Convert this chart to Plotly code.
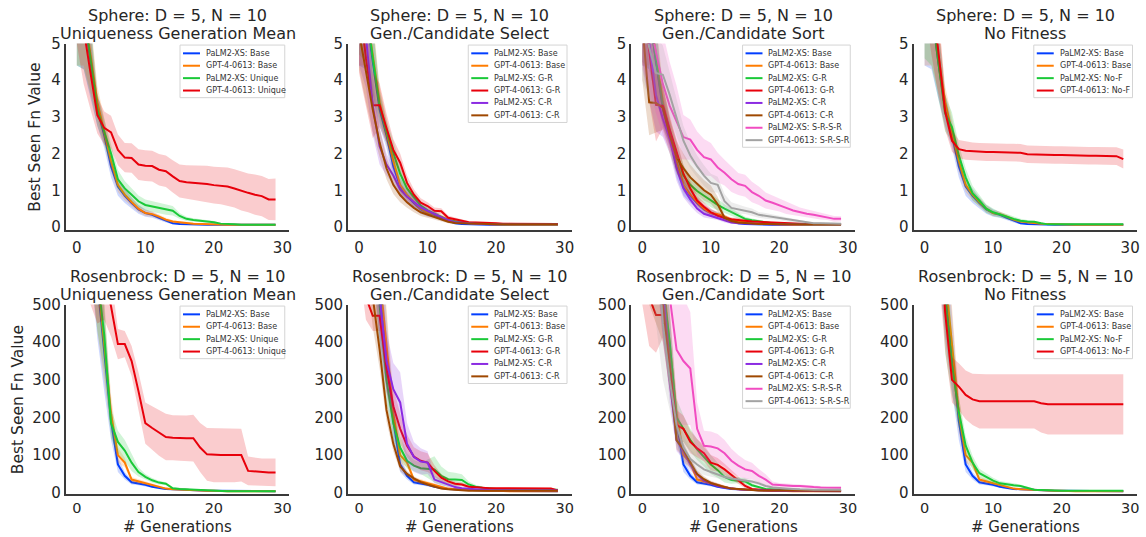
import plotly.graph_objects as go

# ---------------- data ----------------
GENERATIONS = list(range(30))

# Sphere (D=5, N=10)
SPH_PALM_BASE = [7.0, 5.9, 4.5, 3.2, 2.5, 1.65, 1.1, 0.85, 0.65, 0.48, 0.38, 0.33, 0.25, 0.17, 0.1, 0.08, 0.07, 0.07, 0.06, 0.06, 0.06, 0.06, 0.06, 0.06, 0.06, 0.06, 0.06, 0.06, 0.06, 0.06]
SPH_PALM_BASE_SD = [2.6, 1.6, 1.0, 0.45, 0.35, 0.3, 0.25, 0.2, 0.15, 0.12, 0.1, 0.08, 0.06, 0.05, 0.03, 0.02, 0.02, 0.02, 0.01, 0.01, 0.01, 0.01, 0.01, 0.01, 0.01, 0.01, 0.01, 0.01, 0.01, 0.01]
SPH_GPT_BASE = [7.2, 6.0, 4.7, 3.4, 2.6, 1.8, 1.15, 0.88, 0.68, 0.5, 0.38, 0.35, 0.28, 0.2, 0.15, 0.12, 0.11, 0.09, 0.08, 0.07, 0.06, 0.06, 0.06, 0.06, 0.06, 0.06, 0.06, 0.06, 0.06, 0.06]
SPH_GPT_BASE_SD = [2.8, 1.6, 1.0, 0.45, 0.35, 0.3, 0.2, 0.15, 0.12, 0.1, 0.08, 0.07, 0.06, 0.05, 0.04, 0.03, 0.03, 0.02, 0.02, 0.01, 0.01, 0.01, 0.01, 0.01, 0.01, 0.01, 0.01, 0.01, 0.01, 0.01]

SPH_PALM_UNIQUE = [7.0, 5.9, 4.6, 3.2, 2.6, 2.0, 1.3, 1.05, 0.88, 0.7, 0.6, 0.56, 0.52, 0.47, 0.44, 0.3, 0.22, 0.19, 0.17, 0.16, 0.13, 0.09, 0.07, 0.07, 0.06, 0.06, 0.06, 0.06, 0.06, 0.06]
SPH_PALM_UNIQUE_SD = [2.6, 1.6, 1.0, 0.45, 0.35, 0.3, 0.25, 0.2, 0.18, 0.16, 0.15, 0.15, 0.15, 0.14, 0.13, 0.08, 0.06, 0.05, 0.04, 0.04, 0.03, 0.02, 0.02, 0.01, 0.01, 0.01, 0.01, 0.01, 0.01, 0.01]
SPH_GPT_UNIQUE = [7.5, 5.4, 4.2, 3.05, 2.7, 2.58, 2.1, 1.89, 1.88, 1.7, 1.67, 1.66, 1.56, 1.52, 1.38, 1.25, 1.22, 1.21, 1.18, 1.17, 1.14, 1.12, 1.1, 1.05, 0.98, 0.93, 0.88, 0.84, 0.75, 0.75]
SPH_GPT_UNIQUE_SD = [2.5, 1.5, 1.0, 0.5, 0.45, 0.45, 0.42, 0.4, 0.4, 0.42, 0.42, 0.42, 0.43, 0.43, 0.44, 0.45, 0.46, 0.47, 0.48, 0.5, 0.5, 0.5, 0.52, 0.52, 0.53, 0.53, 0.55, 0.55, 0.56, 0.57]

SPH_PALM_GR_SEL = [7.2, 6.0, 4.6, 3.3, 2.6, 2.05, 1.45, 1.05, 0.8, 0.58, 0.45, 0.35, 0.27, 0.18, 0.14, 0.12, 0.1, 0.09, 0.08, 0.07, 0.07, 0.07, 0.07, 0.07, 0.07, 0.07, 0.07, 0.07, 0.07, 0.07]
SPH_PALM_GR_SEL_SD = [2.5, 1.5, 1.0, 0.45, 0.3, 0.3, 0.25, 0.2, 0.15, 0.12, 0.1, 0.08, 0.06, 0.05, 0.04, 0.03, 0.02, 0.02, 0.01, 0.01, 0.01, 0.01, 0.01, 0.01, 0.01, 0.01, 0.01, 0.01, 0.01, 0.01]
SPH_GPT_GR_SEL = [6.2, 4.6, 3.32, 3.32, 2.7, 2.1, 1.75, 1.2, 0.88, 0.66, 0.57, 0.44, 0.43, 0.25, 0.21, 0.16, 0.13, 0.12, 0.12, 0.12, 0.1, 0.09, 0.09, 0.08, 0.08, 0.08, 0.08, 0.08, 0.08, 0.08]
SPH_GPT_GR_SEL_SD = [2.0, 1.3, 0.9, 0.6, 0.4, 0.3, 0.25, 0.2, 0.15, 0.12, 0.1, 0.09, 0.08, 0.06, 0.05, 0.04, 0.03, 0.03, 0.03, 0.02, 0.02, 0.02, 0.02, 0.02, 0.02, 0.02, 0.02, 0.02, 0.02, 0.02]
SPH_PALM_CR_SEL = [6.8, 5.2, 3.3, 2.2, 1.7, 1.4, 1.02, 0.82, 0.68, 0.53, 0.44, 0.36, 0.26, 0.18, 0.13, 0.11, 0.1, 0.09, 0.08, 0.08, 0.07, 0.07, 0.07, 0.07, 0.07, 0.07, 0.07, 0.07, 0.07, 0.07]
SPH_PALM_CR_SEL_SD = [2.4, 1.4, 0.8, 0.5, 0.3, 0.25, 0.2, 0.15, 0.12, 0.1, 0.08, 0.07, 0.05, 0.04, 0.03, 0.02, 0.02, 0.01, 0.01, 0.01, 0.01, 0.01, 0.01, 0.01, 0.01, 0.01, 0.01, 0.01, 0.01, 0.01]
SPH_GPT_CR_SEL = [5.3, 4.2, 3.2, 2.3, 1.6, 1.15, 0.87, 0.67, 0.52, 0.4, 0.34, 0.28, 0.2, 0.14, 0.11, 0.1, 0.09, 0.08, 0.08, 0.07, 0.07, 0.07, 0.07, 0.07, 0.07, 0.07, 0.07, 0.07, 0.07, 0.07]
SPH_GPT_CR_SEL_SD = [1.0, 0.8, 0.6, 0.4, 0.3, 0.25, 0.2, 0.15, 0.12, 0.1, 0.08, 0.06, 0.05, 0.04, 0.03, 0.02, 0.02, 0.01, 0.01, 0.01, 0.01, 0.01, 0.01, 0.01, 0.01, 0.01, 0.01, 0.01, 0.01, 0.01]

SPH_PALM_GR_SORT = [7.0, 5.8, 4.5, 3.3, 2.6, 2.0, 1.4, 1.15, 0.98, 0.85, 0.72, 0.6, 0.5, 0.4, 0.3, 0.22, 0.18, 0.15, 0.12, 0.1, 0.09, 0.08, 0.07, 0.07, 0.07, 0.07, 0.07, 0.07, 0.07, 0.07]
SPH_PALM_GR_SORT_SD = [2.5, 1.5, 1.0, 0.5, 0.35, 0.3, 0.28, 0.25, 0.22, 0.2, 0.18, 0.15, 0.12, 0.1, 0.08, 0.06, 0.05, 0.04, 0.03, 0.02, 0.02, 0.01, 0.01, 0.01, 0.01, 0.01, 0.01, 0.01, 0.01, 0.01]
SPH_GPT_GR_SORT = [6.5, 4.8, 3.33, 3.3, 2.65, 2.05, 1.45, 1.05, 0.72, 0.55, 0.4, 0.3, 0.24, 0.21, 0.2, 0.17, 0.15, 0.14, 0.12, 0.11, 0.1, 0.1, 0.09, 0.08, 0.08, 0.08, 0.08, 0.08, 0.08, 0.08]
SPH_GPT_GR_SORT_SD = [2.0, 1.4, 1.0, 0.6, 0.4, 0.3, 0.25, 0.2, 0.15, 0.12, 0.1, 0.08, 0.06, 0.05, 0.05, 0.04, 0.03, 0.03, 0.02, 0.02, 0.02, 0.02, 0.02, 0.02, 0.02, 0.02, 0.02, 0.02, 0.02, 0.02]
SPH_PALM_CR_SORT = [6.5, 5.0, 3.6, 2.95, 2.4, 1.6, 1.05, 0.75, 0.5, 0.36, 0.3, 0.25, 0.17, 0.12, 0.1, 0.09, 0.08, 0.08, 0.07, 0.07, 0.07, 0.07, 0.07, 0.07, 0.07, 0.07, 0.07, 0.07, 0.07, 0.07]
SPH_PALM_CR_SORT_SD = [2.2, 1.5, 1.0, 0.5, 0.4, 0.35, 0.25, 0.18, 0.12, 0.1, 0.08, 0.06, 0.05, 0.04, 0.03, 0.02, 0.02, 0.01, 0.01, 0.01, 0.01, 0.01, 0.01, 0.01, 0.01, 0.01, 0.01, 0.01, 0.01, 0.01]
SPH_GPT_CR_SORT = [5.5, 3.4, 3.38, 3.25, 2.5, 1.9, 1.6, 1.35, 1.18, 1.0, 0.88, 0.62, 0.25, 0.16, 0.12, 0.1, 0.09, 0.08, 0.08, 0.07, 0.07, 0.07, 0.07, 0.07, 0.07, 0.07, 0.07, 0.07, 0.07, 0.07]
SPH_GPT_CR_SORT_SD = [1.5, 0.9, 0.8, 0.6, 0.5, 0.45, 0.4, 0.35, 0.3, 0.28, 0.25, 0.2, 0.08, 0.05, 0.04, 0.03, 0.02, 0.02, 0.01, 0.01, 0.01, 0.01, 0.01, 0.01, 0.01, 0.01, 0.01, 0.01, 0.01, 0.01]
SPH_PALM_SRSR_SORT = [6.5, 5.6, 4.7, 3.9, 3.3, 2.85, 2.45, 2.38, 2.1, 1.9, 1.84, 1.62, 1.48, 1.3, 1.17, 1.12, 0.95, 0.85, 0.72, 0.66, 0.6, 0.52, 0.45, 0.4, 0.36, 0.33, 0.3, 0.27, 0.22, 0.22]
SPH_PALM_SRSR_SORT_SD = [2.0, 1.8, 1.6, 1.4, 1.2, 1.0, 0.6, 0.55, 0.5, 0.5, 0.45, 0.4, 0.35, 0.35, 0.3, 0.3, 0.28, 0.25, 0.22, 0.2, 0.18, 0.17, 0.15, 0.13, 0.12, 0.1, 0.1, 0.08, 0.08, 0.07]
SPH_GPT_SRSR_SORT = [5.8, 4.9, 4.2, 4.15, 3.6, 3.0, 2.35, 1.95, 1.65, 1.4, 1.2, 1.15, 0.7, 0.52, 0.48, 0.45, 0.4, 0.33, 0.3, 0.27, 0.25, 0.2, 0.17, 0.14, 0.12, 0.1, 0.1, 0.09, 0.09, 0.09]
SPH_GPT_SRSR_SORT_SD = [1.8, 1.4, 1.0, 0.8, 0.6, 0.5, 0.4, 0.35, 0.3, 0.28, 0.25, 0.22, 0.2, 0.15, 0.12, 0.1, 0.1, 0.08, 0.08, 0.07, 0.06, 0.05, 0.05, 0.04, 0.03, 0.03, 0.02, 0.02, 0.02, 0.02]

SPH_PALM_NOF = [7.2, 6.0, 4.5, 3.1, 2.72, 1.95, 1.35, 0.92, 0.72, 0.5, 0.4, 0.33, 0.28, 0.22, 0.17, 0.15, 0.14, 0.1, 0.07, 0.07, 0.07, 0.07, 0.07, 0.07, 0.07, 0.07, 0.07, 0.07, 0.07, 0.07]
SPH_PALM_NOF_SD = [2.6, 1.6, 1.0, 0.5, 0.4, 0.3, 0.25, 0.2, 0.15, 0.12, 0.1, 0.08, 0.07, 0.06, 0.05, 0.04, 0.03, 0.02, 0.01, 0.01, 0.01, 0.01, 0.01, 0.01, 0.01, 0.01, 0.01, 0.01, 0.01, 0.01]
SPH_GPT_NOF = [8.5, 6.5, 4.8, 3.15, 2.35, 2.12, 2.08, 2.06, 2.05, 2.04, 2.04, 2.03, 2.03, 2.03, 2.02, 1.98, 1.97, 1.97, 1.96, 1.96, 1.96, 1.95, 1.95, 1.95, 1.94, 1.94, 1.94, 1.94, 1.93, 1.85]
SPH_GPT_NOF_SD = [2.5, 1.8, 1.2, 0.5, 0.3, 0.25, 0.25, 0.24, 0.24, 0.24, 0.24, 0.24, 0.24, 0.24, 0.24, 0.24, 0.24, 0.24, 0.24, 0.24, 0.24, 0.24, 0.24, 0.24, 0.24, 0.24, 0.24, 0.24, 0.24, 0.26]

# Rosenbrock (D=5, N=10)
ROS_PALM_BASE = [3000, 1800, 1000, 560, 370, 190, 75, 45, 28, 25, 21, 16, 12, 10, 9, 8, 7, 6, 6, 5, 5, 5, 4, 4, 4, 4, 4, 4, 4, 4]
ROS_PALM_BASE_SD = [1200, 700, 400, 150, 100, 50, 20, 10, 6, 5, 4, 3, 2.5, 2, 1.5, 1, 1, 1, 1, 1, 1, 1, 1, 1, 1, 1, 1, 1, 1, 1]
ROS_GPT_BASE = [3000, 1800, 1000, 580, 390, 210, 100, 80, 35, 30, 27, 22, 16, 11, 9, 8, 7, 6, 5, 5, 5, 4, 4, 4, 4, 4, 4, 4, 4, 4]
ROS_GPT_BASE_SD = [1200, 700, 400, 150, 100, 50, 20, 12, 7, 6, 5, 4, 3, 2, 2, 1, 1, 1, 1, 1, 1, 1, 1, 1, 1, 1, 1, 1, 1, 1]

ROS_PALM_UNIQUE = [3000, 1800, 1000, 580, 420, 185, 135, 112, 80, 55, 42, 33, 27, 24, 12, 10, 9, 8, 7, 6, 5, 5, 4, 4, 4, 4, 4, 4, 4, 4]
ROS_PALM_UNIQUE_SD = [1200, 700, 400, 150, 100, 40, 30, 28, 22, 12, 8, 6, 5, 4, 3, 2, 2, 2, 1, 1, 1, 1, 1, 1, 1, 1, 1, 1, 1, 1]
ROS_GPT_UNIQUE = [1500, 1000, 800, 650, 580, 495, 395, 395, 350, 270, 185, 172, 160, 148, 146, 145, 145, 145, 120, 102, 100, 100, 100, 100, 100, 58, 56, 54, 54, 54]
ROS_GPT_UNIQUE_SD = [600, 400, 300, 200, 120, 80, 40, 35, 40, 50, 55, 58, 62, 62, 60, 60, 60, 62, 65, 70, 72, 72, 72, 72, 70, 38, 37, 37, 37, 37]

ROS_PALM_GR_SEL = [2500, 1500, 900, 500, 300, 185, 120, 85, 72, 65, 64, 62, 45, 36, 35, 34, 22, 16, 13, 11, 10, 9, 8, 8, 8, 8, 8, 8, 8, 8]
ROS_PALM_GR_SEL_SD = [900, 600, 300, 120, 60, 40, 30, 20, 15, 15, 25, 35, 25, 20, 18, 15, 8, 5, 3, 2, 2, 2, 2, 2, 2, 2, 2, 2, 2, 2]
ROS_GPT_GR_SEL = [900, 520, 470, 470, 330, 230, 170, 125, 96, 85, 80, 58, 40, 30, 24, 22, 16, 14, 13, 12, 12, 12, 11, 11, 11, 11, 11, 11, 11, 6]
ROS_GPT_GR_SEL_SD = [300, 60, 40, 40, 60, 50, 40, 30, 25, 25, 25, 15, 10, 8, 6, 5, 4, 3, 3, 2, 2, 2, 2, 2, 2, 2, 2, 2, 2, 2]
ROS_PALM_CR_SEL = [2500, 1500, 900, 520, 350, 275, 240, 130, 95, 83, 80, 35, 28, 20, 15, 12, 10, 9, 8, 7, 7, 6, 6, 6, 6, 6, 6, 6, 6, 6]
ROS_PALM_CR_SEL_SD = [900, 600, 300, 120, 80, 70, 80, 55, 40, 35, 30, 10, 8, 6, 5, 4, 3, 2, 2, 2, 2, 2, 2, 2, 2, 2, 2, 2, 2, 2]
ROS_GPT_CR_SEL = [1500, 800, 520, 380, 220, 130, 70, 50, 38, 28, 22, 16, 11, 9, 7, 6, 5, 5, 5, 5, 5, 5, 5, 5, 5, 5, 5, 5, 5, 5]
ROS_GPT_CR_SEL_SD = [500, 200, 80, 50, 30, 20, 12, 8, 6, 5, 4, 3, 2, 2, 1, 1, 1, 1, 1, 1, 1, 1, 1, 1, 1, 1, 1, 1, 1, 1]

ROS_PALM_GR_SORT = [2500, 1500, 900, 550, 400, 200, 170, 140, 115, 95, 75, 60, 42, 34, 33, 30, 20, 14, 10, 9, 8, 8, 7, 7, 7, 7, 7, 7, 7, 7]
ROS_PALM_GR_SORT_SD = [900, 600, 300, 120, 80, 50, 35, 30, 28, 25, 25, 20, 15, 10, 8, 8, 5, 3, 2, 2, 2, 2, 2, 2, 2, 2, 2, 2, 2, 2]
ROS_GPT_GR_SORT = [900, 520, 472, 472, 330, 180, 170, 135, 118, 105, 80, 74, 62, 48, 34, 18, 10, 8, 7, 6, 6, 5, 5, 5, 5, 5, 5, 5, 5, 5]
ROS_GPT_GR_SORT_SD = [400, 130, 100, 60, 60, 40, 35, 30, 25, 22, 20, 18, 15, 12, 10, 6, 3, 2, 2, 2, 2, 2, 2, 2, 2, 2, 2, 2, 2, 2]
ROS_PALM_CR_SORT = [2500, 1500, 900, 550, 300, 140, 110, 75, 48, 32, 24, 18, 14, 11, 9, 8, 7, 6, 6, 5, 5, 5, 5, 5, 5, 5, 5, 5, 5, 5]
ROS_PALM_CR_SORT_SD = [900, 600, 300, 120, 60, 30, 20, 15, 10, 8, 6, 5, 4, 3, 2, 2, 2, 1, 1, 1, 1, 1, 1, 1, 1, 1, 1, 1, 1, 1]
ROS_GPT_CR_SORT = [1500, 800, 600, 500, 330, 140, 115, 80, 50, 36, 26, 20, 15, 11, 9, 8, 7, 6, 6, 5, 5, 5, 5, 5, 5, 5, 5, 5, 5, 5]
ROS_GPT_CR_SORT_SD = [500, 300, 150, 100, 60, 25, 20, 15, 10, 8, 6, 5, 4, 3, 2, 2, 2, 1, 1, 1, 1, 1, 1, 1, 1, 1, 1, 1, 1, 1]
ROS_PALM_SRSR_SORT = [3000, 1500, 1000, 700, 520, 380, 350, 330, 170, 125, 123, 118, 105, 85, 72, 62, 58, 45, 35, 22, 20, 19, 18, 18, 16, 15, 14, 13, 13, 13]
ROS_PALM_SRSR_SORT_SD = [1000, 600, 400, 300, 250, 200, 170, 150, 70, 40, 40, 38, 35, 32, 28, 25, 22, 18, 14, 8, 6, 6, 5, 5, 4, 4, 4, 3, 3, 3]
ROS_GPT_SRSR_SORT = [2000, 1000, 700, 450, 300, 180, 120, 90, 75, 62, 55, 48, 42, 38, 35, 34, 30, 25, 18, 14, 12, 10, 10, 9, 8, 8, 8, 8, 8, 8]
ROS_GPT_SRSR_SORT_SD = [700, 400, 250, 150, 80, 50, 35, 25, 20, 15, 12, 10, 8, 7, 6, 6, 5, 5, 4, 3, 2, 2, 2, 2, 2, 2, 2, 2, 2, 2]

ROS_PALM_NOF = [3000, 1800, 1000, 520, 340, 215, 125, 80, 52, 42, 32, 25, 22, 20, 18, 12, 8, 7, 6, 5, 5, 5, 5, 5, 5, 5, 5, 5, 5, 5]
ROS_PALM_NOF_SD = [1200, 700, 400, 150, 80, 40, 25, 18, 12, 10, 8, 6, 5, 5, 4, 3, 2, 2, 1, 1, 1, 1, 1, 1, 1, 1, 1, 1, 1, 1]
ROS_GPT_NOF = [2000, 1200, 800, 480, 300, 282, 260, 248, 243, 243, 243, 243, 243, 243, 243, 243, 243, 238, 235, 235, 235, 235, 235, 235, 235, 235, 235, 235, 235, 235]
ROS_GPT_NOF_SD = [700, 400, 250, 100, 60, 62, 65, 68, 72, 72, 72, 72, 72, 72, 72, 72, 72, 78, 80, 80, 80, 80, 80, 80, 80, 80, 80, 80, 80, 80]

X_TICKS = [0, 10, 20, 30]
SPH_Y_TICKS = [0, 1, 2, 3, 4, 5]
ROS_Y_TICKS = [0, 100, 200, 300, 400, 500]

COLORS = {
    "blue": "#023eff", "orange": "#ff7c00", "green": "#1ac938", "red": "#e8000b",
    "purple": "#8b2be2", "brown": "#9f4800", "pink": "#f14cc1", "gray": "#a3a3a3",
}

def base_series(pref):
    d = globals()
    return [
        ("PaLM2-XS: Base", d[pref + "_PALM_BASE"], d[pref + "_PALM_BASE_SD"], "blue"),
        ("GPT-4-0613: Base", d[pref + "_GPT_BASE"], d[pref + "_GPT_BASE_SD"], "orange"),
    ]

def panel_series(pref, kind):
    d = globals()
    s = base_series(pref)
    if kind == "unique":
        s += [("PaLM2-XS: Unique", d[pref + "_PALM_UNIQUE"], d[pref + "_PALM_UNIQUE_SD"], "green"),
              ("GPT-4-0613: Unique", d[pref + "_GPT_UNIQUE"], d[pref + "_GPT_UNIQUE_SD"], "red")]
    elif kind == "select":
        s += [("PaLM2-XS: G-R", d[pref + "_PALM_GR_SEL"], d[pref + "_PALM_GR_SEL_SD"], "green"),
              ("GPT-4-0613: G-R", d[pref + "_GPT_GR_SEL"], d[pref + "_GPT_GR_SEL_SD"], "red"),
              ("PaLM2-XS: C-R", d[pref + "_PALM_CR_SEL"], d[pref + "_PALM_CR_SEL_SD"], "purple"),
              ("GPT-4-0613: C-R", d[pref + "_GPT_CR_SEL"], d[pref + "_GPT_CR_SEL_SD"], "brown")]
    elif kind == "sort":
        s += [("PaLM2-XS: G-R", d[pref + "_PALM_GR_SORT"], d[pref + "_PALM_GR_SORT_SD"], "green"),
              ("GPT-4-0613: G-R", d[pref + "_GPT_GR_SORT"], d[pref + "_GPT_GR_SORT_SD"], "red"),
              ("PaLM2-XS: C-R", d[pref + "_PALM_CR_SORT"], d[pref + "_PALM_CR_SORT_SD"], "purple"),
              ("GPT-4-0613: C-R", d[pref + "_GPT_CR_SORT"], d[pref + "_GPT_CR_SORT_SD"], "brown"),
              ("PaLM2-XS: S-R-S-R", d[pref + "_PALM_SRSR_SORT"], d[pref + "_PALM_SRSR_SORT_SD"], "pink"),
              ("GPT-4-0613: S-R-S-R", d[pref + "_GPT_SRSR_SORT"], d[pref + "_GPT_SRSR_SORT_SD"], "gray")]
    else:
        s += [("PaLM2-XS: No-F", d[pref + "_PALM_NOF"], d[pref + "_PALM_NOF_SD"], "green"),
              ("GPT-4-0613: No-F", d[pref + "_GPT_NOF"], d[pref + "_GPT_NOF_SD"], "red")]
    return s

SUBTITLES = ["Uniqueness Generation Mean", "Gen./Candidate Select", "Gen./Candidate Sort", "No Fitness"]
KINDS = ["unique", "select", "sort", "nofit"]
ROWS = [("SPH", "Sphere: D = 5, N = 10", [-0.08, 5], SPH_Y_TICKS),
        ("ROS", "Rosenbrock: D = 5, N = 10", [-3, 500], ROS_Y_TICKS)]

# ---------------- layout geometry (target picture pixels) ----------------
W, H = 1146, 537
V_SCALE, V_OFF = 0.972, 7.3          # vertical mapping observed between page and picture
COL_L = [66, 349, 633, 916]
PW = 224
ROW_T = [42, 304]
ROW_B = [229, 494]
YLAB_X = [35, 18]
LEG_W = [105, 99, 108, 99]
TXT = "#262626"
FONT = "DejaVu Sans"

def rgba(hexc, a):
    h = hexc.lstrip("#")
    return "rgba(%d,%d,%d,%s)" % (int(h[0:2], 16), int(h[2:4], 16), int(h[4:6], 16), a)

def px(x):
    return x / W

def py(y):
    return 1 - ((y - V_OFF) / V_SCALE) / H

fig = go.Figure()
layout = {}
annotations = []
shapes = []

n = 0
for r, (pref, title, yr, yt) in enumerate(ROWS):
    for c in range(4):
        n += 1
        xa = "x" if n == 1 else "x%d" % n
        ya = "y" if n == 1 else "y%d" % n
        series = panel_series(pref, KINDS[c])
        for label, mean, sd, col in series:
            upper = [m + s for m, s in zip(mean, sd)]
            lower = [m - s for m, s in zip(mean, sd)]
            fig.add_trace(go.Scatter(
                x=GENERATIONS + GENERATIONS[::-1], y=upper + lower[::-1],
                fill="toself", fillcolor=rgba(COLORS[col], 0.2), line=dict(width=0),
                mode="lines", hoverinfo="skip", showlegend=False, xaxis=xa, yaxis=ya))
            fig.add_trace(go.Scatter(
                x=GENERATIONS, y=mean, mode="lines", name=label,
                line=dict(color=COLORS[col], width=2), showlegend=False,
                xaxis=xa, yaxis=ya))

        l = COL_L[c]
        if r == 0:
            xtick = dict(ticks="outside", ticklen=3, tickcolor="rgba(0,0,0,0)",
                         tickfont=dict(size=15, color=TXT, family=FONT))
        else:
            xtick = dict(ticks="", tickfont=dict(size=14.5, color=TXT, family=FONT))
        layout["xaxis" if n == 1 else "xaxis%d" % n] = dict(
            domain=[px(l), px(l + PW)], range=[-1.6, 31], tickvals=X_TICKS,
            showline=True, linecolor="#3a3a3a", linewidth=2, showgrid=False, zeroline=False,
            anchor=ya, fixedrange=True, **xtick)
        layout["yaxis" if n == 1 else "yaxis%d" % n] = dict(
            domain=[py(ROW_B[r]), py(ROW_T[r])], range=yr, tickvals=yt,
            showline=True, linecolor="#3a3a3a", linewidth=2, showgrid=False, zeroline=False,
            ticks="", tickfont=dict(size=15, color=TXT, family=FONT),
            anchor=xa, fixedrange=True)

        cx = l + PW / 2
        annotations.append(dict(text=title, x=px(cx), y=py(ROW_T[r] - 28), xref="paper", yref="paper",
                                xanchor="center", yanchor="middle", showarrow=False,
                                font=dict(size=16, color=TXT, family=FONT)))
        annotations.append(dict(text=SUBTITLES[c], x=px(cx), y=py(ROW_T[r] - 10), xref="paper", yref="paper",
                                xanchor="center", yanchor="middle", showarrow=False,
                                font=dict(size=16, color=TXT, family=FONT)))
        if r == 1:
            annotations.append(dict(text="# Generations", x=px(cx), y=py(527), xref="paper", yref="paper",
                                    xanchor="center", yanchor="middle", showarrow=False,
                                    font=dict(size=15, color=TXT, family=FONT)))
        if c == 0:
            annotations.append(dict(text="Best Seen Fn Value", x=px(YLAB_X[r]), y=py((ROW_T[r] + ROW_B[r]) / 2),
                                    xref="paper", yref="paper", xanchor="center", yanchor="middle",
                                    textangle=-90, showarrow=False,
                                    font=dict(size=15.5, color=TXT, family=FONT)))

        # legend box
        right = l + PW - 4.5
        top = ROW_T[r] + 1.5
        lw = LEG_W[c]
        lh = 12.45 * len(series) + 3
        shapes.append(dict(type="rect", xref="paper", yref="paper",
                           x0=px(right - lw), x1=px(right), y0=py(top + lh), y1=py(top),
                           fillcolor="rgba(255,255,255,0.85)", line=dict(color="#d4d4d4", width=1)))
        for i, (label, mean, sd, col) in enumerate(series):
            ey = top + 8.3 + 12.45 * i
            x0 = right - lw + 3
            shapes.append(dict(type="line", xref="paper", yref="paper",
                               x0=px(x0), x1=px(x0 + 17), y0=py(ey), y1=py(ey),
                               line=dict(color=COLORS[col], width=2)))
            annotations.append(dict(text=label, x=px(x0 + 21), y=py(ey), xref="paper", yref="paper",
                                    xanchor="left", yanchor="middle", showarrow=False,
                                    font=dict(size=8, color="#333333", family=FONT)))

fig.update_layout(
    width=W, height=H, autosize=False,
    margin=dict(l=0, r=0, t=0, b=0),
    paper_bgcolor="white", plot_bgcolor="white",
    showlegend=False, annotations=annotations, shapes=shapes,
    font=dict(family=FONT, color=TXT),
    **layout)

fig.write_html(
    "out.html",
    config={"displayModeBar": False},
    post_script="document.body.style.margin='0px';document.body.style.overflow='hidden';",
)
